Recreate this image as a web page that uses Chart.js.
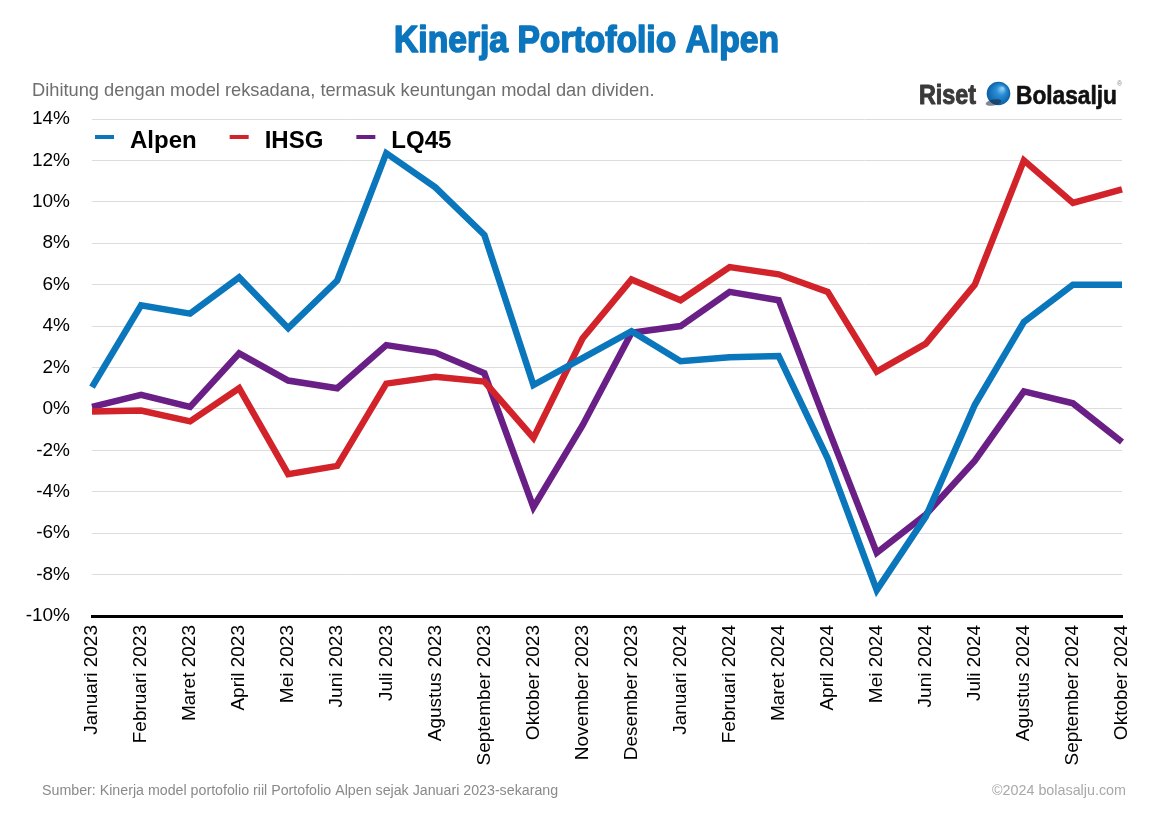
<!DOCTYPE html>
<html><head><meta charset="utf-8">
<script src="https://cdn.jsdelivr.net/npm/chart.js@4.4.1/dist/chart.umd.min.js"></script>
<style>html,body{margin:0;padding:0;background:#fff;} #wrap{width:1150px;height:822px;position:relative;}</style>
</head><body><div id="wrap"><canvas id="c" width="1150" height="822"></canvas></div>
<script>
const categories = ['Januari 2023','Februari 2023','Maret 2023','April 2023','Mei 2023','Juni 2023','Juli 2023','Agustus 2023','September 2023','Oktober 2023','November 2023','Desember 2023','Januari 2024','Februari 2024','Maret 2024','April 2024','Mei 2024','Juni 2024','Juli 2024','Agustus 2024','September 2024','Oktober 2024'];
const alpen = [1.05, 5.0, 4.6, 6.35, 3.9, 6.2, 12.35, 10.7, 8.4, 1.15, 2.45, 3.75, 2.3, 2.5, 2.55, -2.4, -8.75, -5.2, 0.2, 4.2, 6.0, 6.0];
const ihsg = [-0.12, -0.08, -0.6, 1.0, -3.15, -2.75, 1.22, 1.55, 1.32, -1.4, 3.4, 6.25, 5.25, 6.85, 6.5, 5.65, 1.8, 3.15, 6.0, 12.0, 9.95, 10.6];
const lq45 = [0.1, 0.68, 0.1, 2.68, 1.37, 1.0, 3.08, 2.72, 1.72, -4.75, -0.8, 3.68, 4.0, 5.65, 5.25, -0.9, -6.95, -5.1, -2.5, 0.85, 0.27, -1.6];
const seriesNames = ['Alpen', 'IHSG', 'LQ45'];
const yMin = -10, yMax = 14, yStep = 2;
const titleText = 'Kinerja Portofolio Alpen';
const subtitleText = 'Dihitung dengan model reksadana, termasuk keuntungan modal dan dividen.';
const sourceText = 'Sumber: Kinerja model portofolio riil Portofolio Alpen sejak Januari 2023-sekarang';
const copyrightText = '©2024 bolasalju.com';

const COLORS = ['#0a76bb', '#d2232b', '#6a1f86'];
const FONT = '"Liberation Sans", Arial, Helvetica, sans-serif';

function sizeFor(ctx, text, weight, target) {
  ctx.font = weight + ' 100px ' + FONT;
  return 100 * target / ctx.measureText(text).width;
}
function fitText(ctx, text, x, y, width, weight, color, align, scaleX, stroke) {
  ctx.save();
  ctx.fillStyle = color;
  ctx.textBaseline = 'alphabetic';
  if (scaleX) {
    ctx.font = weight + ' ' + scaleX + 'px ' + FONT;
    const w = ctx.measureText(text).width;
    ctx.translate(x, y);
    ctx.scale(width / w, 1);
    ctx.textAlign = align;
    ctx.fillText(text, 0, 0);
    if (stroke) {
      ctx.strokeStyle = color; ctx.lineWidth = stroke; ctx.lineJoin = 'round';
      ctx.strokeText(text, 0, 0);
    }
  } else {
    const s = sizeFor(ctx, text, weight, width);
    ctx.font = weight + ' ' + s.toFixed(2) + 'px ' + FONT;
    ctx.textAlign = align;
    ctx.fillText(text, x, y);
  }
  ctx.restore();
}

const decor = {
  id: 'decor',
  afterDraw(chart) {
    const ctx = chart.ctx;
    // Title
    fitText(ctx, titleText, 586.5, 52, 385, 'bold', '#0b75bd', 'center', 37, 1.6);
    // Subtitle
    fitText(ctx, subtitleText, 32, 96, 623, 'normal', '#6e6e6e', 'left');
    // Logo
    fitText(ctx, 'Riset', 919, 104, 57, 'bold', '#3a3a3a', 'left', 27, 1);
    const cx = 998.5, cy = 93.5, r = 11.8;
    const g = ctx.createRadialGradient(cx + 4, cy - 5, 1, cx, cy, r);
    g.addColorStop(0, '#8cc8f0');
    g.addColorStop(0.35, '#2b8fd6');
    g.addColorStop(1, '#0a5fa6');
    ctx.save();
    ctx.beginPath(); ctx.arc(cx, cy, r, 0, Math.PI * 2); ctx.fillStyle = g; ctx.fill();
    ctx.beginPath(); ctx.ellipse(cx - 5, cy + 9, 8, 3, -0.2, 0, Math.PI * 2); ctx.fillStyle = 'rgba(30,40,60,0.55)'; ctx.fill();
    ctx.restore();
    fitText(ctx, 'Bolasalju', 1016, 104, 101, 'bold', '#111', 'left', 26, 0.6);
    ctx.save(); ctx.font = '7px ' + FONT; ctx.fillStyle = '#888'; ctx.fillText('®', 1117, 86); ctx.restore();
    // Legend
    const items = chart.data.datasets;
    let x = 95;
    ctx.save();
    ctx.font = 'bold 24px ' + FONT;
    ctx.textBaseline = 'alphabetic';
    items.forEach((ds) => {
      ctx.fillStyle = ds.borderColor;
      ctx.fillRect(x, 135, 19, 4);
      ctx.fillStyle = '#000';
      ctx.fillText(ds.label, x + 35, 148);
      x += 35 + ctx.measureText(ds.label).width + 33;
    });
    ctx.restore();
    // Footer
    fitText(ctx, sourceText, 42, 795, 516, 'normal', '#8a8a8a', 'left');
    fitText(ctx, copyrightText, 1126, 795, 134, 'normal', '#a8a8a8', 'right');
  }
};

new Chart(document.getElementById('c'), {
  type: 'line',
  data: {
    labels: categories,
    datasets: [alpen, ihsg, lq45].map((d, i) => ({
      label: seriesNames[i], data: d, borderColor: COLORS[i], backgroundColor: COLORS[i],
      fill: false
    }))
  },
  options: {
    responsive: false, animation: false,
    layout: { padding: { top: 119, left: 22, right: 28, bottom: 56 } },
    plugins: { legend: { display: false }, title: { display: false }, tooltip: { enabled: false } },
    elements: {
      point: { radius: 0, hoverRadius: 0 },
      line: { tension: 0, borderWidth: 6.5, borderJoinStyle: 'miter', borderCapStyle: 'butt' }
    },
    scales: {
      x: {
        grid: { display: false, drawTicks: false },
        border: { display: true, color: '#000', width: 3 },
        ticks: { autoSkip: false, maxRotation: 90, minRotation: 90, padding: 9, color: '#000',
          font: { family: FONT, size: 19 } },
        afterFit(s) { s.height = 150; s.paddingRight = 0; s.paddingLeft = 0; }
      },
      y: {
        min: yMin, max: yMax,
        ticks: { stepSize: yStep, padding: 22, color: '#000', callback: v => v + '%',
          font: { family: FONT, size: 19 } },
        grid: { color: '#dcdcdc', lineWidth: 1, drawTicks: false },
        border: { display: false },
        afterFit(s) { s.width = 70; }
      }
    }
  },
  plugins: [decor]
});
</script>
</body></html>
